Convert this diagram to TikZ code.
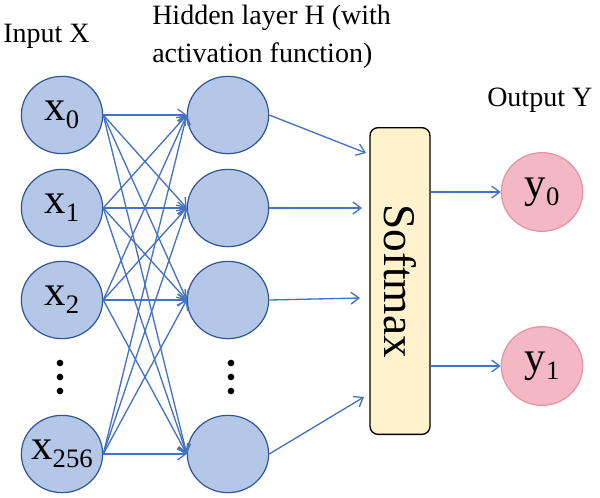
\documentclass[tikz,border=0pt]{standalone}
\usepackage{fontspec}
\setmainfont{Liberation Serif}
\usetikzlibrary{arrows.meta,shapes.geometric}

\definecolor{nnblue}{HTML}{B4C7E7}
\definecolor{nnedge}{HTML}{2F5597}
\definecolor{nnline}{HTML}{4472C4}
\definecolor{outpink}{HTML}{F4B8C4}
\definecolor{outedge}{HTML}{E8909F}
\definecolor{smfill}{HTML}{FFF2CC}

\newcommand{\lowsub}[1]{\raisebox{-6pt}{\fontsize{20}{20}\selectfont #1}}

\begin{document}
\begin{tikzpicture}[
  x=0.75pt, y=-0.75pt,
  neuron/.style={ellipse,draw=nnedge,line width=0.9pt,fill=nnblue,minimum width=61pt,minimum height=58pt,inner sep=0pt},
  outneuron/.style={neuron,draw=outedge,fill=outpink,minimum height=59pt},
  sym/.style={font=\fontsize{32}{32}\selectfont,inner sep=0pt},
  caption/.style={font=\fontsize{21}{28}\selectfont,inner sep=0pt},
  link/.style={draw=nnline,line width=1pt,-{Straight Barb[length=6pt,width=9pt]}},
  softbox/.style={draw=black,line width=1pt,fill=smfill,rounded corners=6pt,minimum width=45pt,minimum height=230pt}
]
  \useasboundingbox (0,0) rectangle (600,497);

  % layers
  \foreach \i/\y/\s in {0/115/0,1/208/1,2/300/2,3/454/256}
    \node[neuron,label={[sym]center:{x\lowsub{\s}}}] (x\i) at (62,\y) {};
  \foreach \i/\y in {0/115,1/208,2/300,3/454}
    \node[neuron] (h\i) at (228,\y) {};
  \node[softbox,label={[rotate=-90,font=\fontsize{34}{34}\selectfont]center:Softmax}] (sm) at (400,281) {};
  \node[outneuron,label={[sym]center:{y\lowsub{0}}}] (y0) at (542,192) {};
  \node[outneuron,label={[sym]center:{y\lowsub{1}}}] (y1) at (542,366) {};

  % vertical dots
  \foreach \y in {363,377,391} {
    \fill (60,\y) circle (2.5pt);
    \fill (231,\y) circle (2.5pt);
  }

  % connections
  \foreach \i in {0,...,3}
    \foreach \j in {0,...,3}
      \draw[link] (x\i.east) -- (h\j.west);
  \coordinate (s0) at (366,153);
  \coordinate (s1) at (362,208);
  \coordinate (s2) at (360,298);
  \coordinate (s3) at (364,397);
  \foreach \j in {0,...,3}
    \draw[link] (h\j.east) -- (s\j);
  \draw[link] (y0.west -| sm.east) -- (y0.west);
  \draw[link] (y1.west -| sm.east) -- (y1.west);

  % captions
  \node[caption,anchor=base west] (inlab) at (3,42) {Input X};
  \node[caption,anchor=base west,align=left] (hidlab) at (152,62) {Hidden layer H (with\\activation function)};
  \node[caption,anchor=base west] (outlab) at (487,106) {Output Y};
\end{tikzpicture}
\end{document}
